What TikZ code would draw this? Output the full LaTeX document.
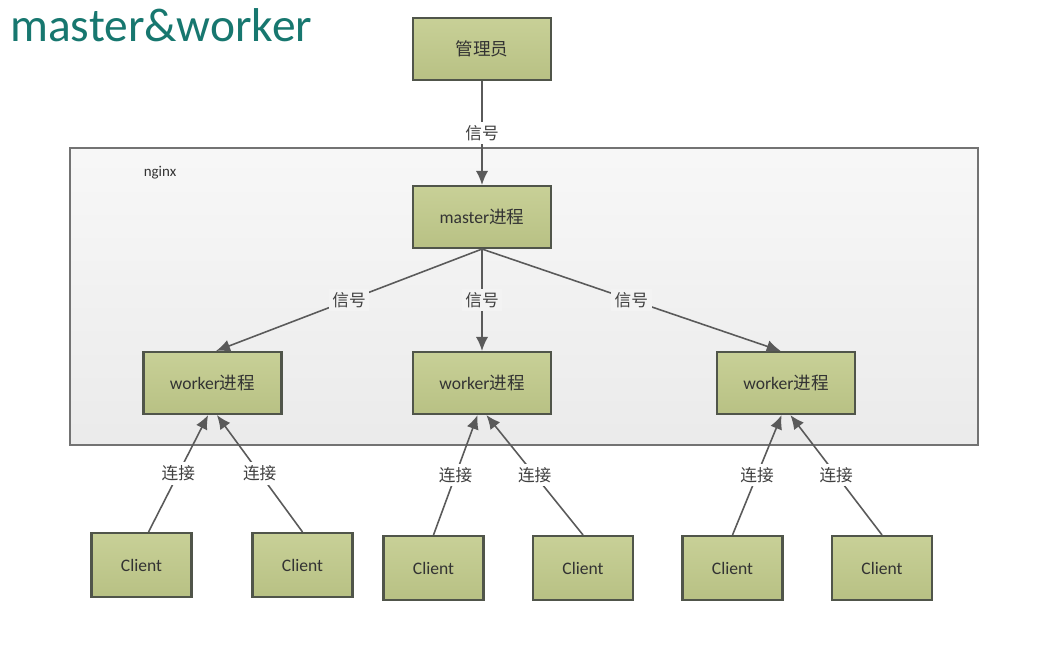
\documentclass[tikz,border=0pt]{standalone}
\usepackage{fontspec}
\setmainfont{Carlito}
\newfontfamily\cjk{Noto Sans CJK SC}
\usetikzlibrary{arrows.meta,shadows}
\definecolor{boxfilltop}{HTML}{C8D097}
\definecolor{boxfillbot}{HTML}{B8C184}
\definecolor{boxline}{HTML}{50554A}
\definecolor{wire}{HTML}{5A5A5A}
\definecolor{titleteal}{HTML}{17776F}
\definecolor{panel}{HTML}{F3F3F3}
\tikzset{
  procbox/.style={draw=boxline, line width=1.2pt, top color=boxfilltop, bottom color=boxfillbot,
    minimum width=2.76cm, minimum height=1.24cm, inner sep=0pt,
    font=\fontsize{10}{12}\selectfont, text=black!80,
    drop shadow={shadow xshift=0.8pt, shadow yshift=-0.8pt, opacity=0.25}},
  clientbox/.style={procbox, minimum width=2.0cm, minimum height=1.28cm},
  wirearrow/.style={draw=wire, line width=0.9pt, -{Latex[length=8pt,width=7pt]}},
  wirelabel/.style={font=\cjk\fontsize{9.5}{11}\selectfont, text=black!75, inner sep=2pt},
}
\begin{document}
\begin{tikzpicture}[x=0.02cm, y=-0.02cm]
  \useasboundingbox[fill=white] (0,0) rectangle (1050,668);

  % heading
  \node[anchor=base west, inner sep=0pt, text=titleteal, font=\fontsize{27}{31}\selectfont] (title) at (10,42) {master\&worker};

  % nginx panel
  \node[draw=black!55, line width=0.8pt, top color=white!97!black, bottom color=white!92!black,
        minimum width=18.16cm, minimum height=5.94cm, inner sep=0pt] (panel) at (524,296.5) {};
  \node[font=\fontsize{8.5}{10}\selectfont, text=black!80] (nginxlbl) at (160,173) {nginx};

  % processes
  \node[procbox] (admin)  at (482,49)  {\cjk 管理员};
  \node[procbox] (master) at (482,217) {master{\cjk 进程}};
  \node[procbox] (w1) at (212.5,383) {worker{\cjk 进程}};
  \node[procbox] (w2) at (482,383)   {worker{\cjk 进程}};
  \node[procbox] (w3) at (786,383)   {worker{\cjk 进程}};

  % clients
  \node[clientbox] (c1) at (141.5,565) {Client};
  \node[clientbox] (c2) at (302.5,565) {Client};
  \node[clientbox] (c3) at (433.5,568) {Client};
  \node[clientbox] (c4) at (583,568)   {Client};
  \node[clientbox] (c5) at (732.5,568) {Client};
  \node[clientbox] (c6) at (882,568)   {Client};

  % signals
  \draw[wirearrow] (admin.south) -- node[wirelabel, fill=white] {信号} (master.north);
  \draw[wirearrow] (master.south) -- node[wirelabel, fill=panel] {信号} ([xshift=2pt]w1.north);
  \draw[wirearrow] (master.south) -- node[wirelabel, fill=panel] {信号} (w2.north);
  \draw[wirearrow] (master.south) -- node[wirelabel, fill=panel] {信号} ([xshift=-3pt]w3.north);

  % client connections
  \draw[wirearrow] ([xshift=4pt]c1.north) -- node[wirelabel, fill=white] {连接} ([xshift=-2.5pt]w1.south);
  \draw[wirearrow] (c2.north) -- node[wirelabel, fill=white] {连接} ([xshift=2.5pt]w1.south);
  \draw[wirearrow] (c3.north) -- node[wirelabel, fill=white] {连接} ([xshift=-2.5pt]w2.south);
  \draw[wirearrow] (c4.north) -- node[wirelabel, fill=white] {连接} ([xshift=2.5pt]w2.south);
  \draw[wirearrow] (c5.north) -- node[wirelabel, fill=white] {连接} ([xshift=-2.5pt]w3.south);
  \draw[wirearrow] (c6.north) -- node[wirelabel, fill=white] {连接} ([xshift=2.5pt]w3.south);
\end{tikzpicture}
\end{document}
